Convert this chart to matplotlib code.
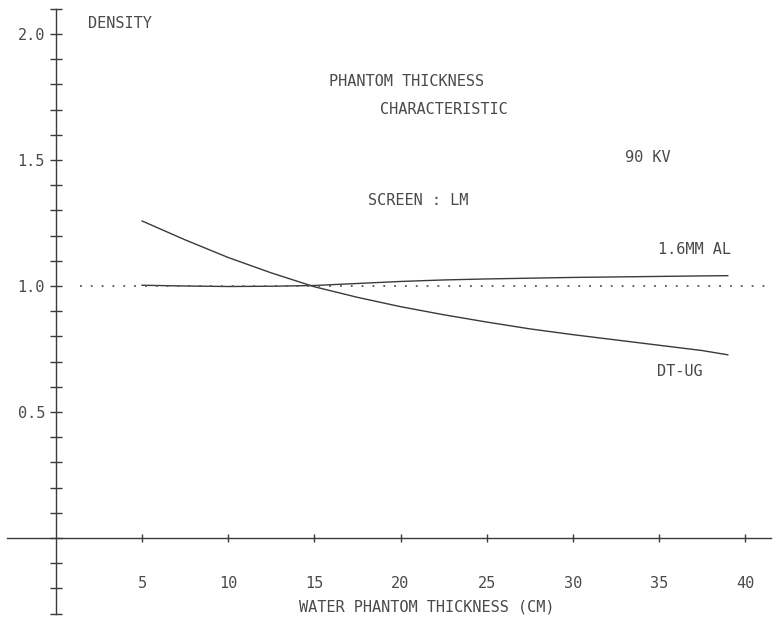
import numpy as np
import matplotlib
matplotlib.use("Agg")
import matplotlib.pyplot as plt

# phantom thickness (cm) vs film density, 90 kV, LM screen
thick = [5, 7.5, 10, 12.5, 15, 17.5, 20, 22.5, 25, 27.5, 30, 32.5, 35, 37.5, 39]
dens_dtug = [1.258, 1.183, 1.113, 1.052, 0.997, 0.955, 0.918, 0.886, 0.857,
             0.830, 0.807, 0.786, 0.765, 0.744, 0.727]
dens_al = [1.003, 1.000, 0.998, 0.999, 1.002, 1.010, 1.018, 1.024, 1.028,
           1.031, 1.034, 1.036, 1.038, 1.040, 1.041]
ref_density = 1.0

xticks = [5, 10, 15, 20, 25, 30, 35, 40]
yticks = np.round(np.arange(-0.3, 2.11, 0.1), 1)
ylabels = {0.5: "0.5", 1.0: "1.0", 1.5: "1.5", 2.0: "2.0"}

W, H = 774, 623
ink = "#3a3a3a"
font = dict(family="DejaVu Sans Mono", size=11, color="#4a4a4a")

fig = plt.figure(figsize=(W / 100, H / 100), dpi=100)
ax = fig.add_axes([0, 0, 1, 1])

# pixel mapping of the plotter frame
x0_px, x_scale = 56, 17.225
y0_px, y_scale = 538, 252
ax.set_xlim(-x0_px / x_scale, (W - x0_px) / x_scale)
ax.set_ylim((y0_px - H) / y_scale, y0_px / y_scale)

ax.plot(thick, dens_dtug, color=ink, lw=1.0)
ax.plot(thick, dens_al, color=ink, lw=1.0)
ax.hlines(ref_density, 1.4, 41.5, color="#555555", lw=1.3,
          linestyles=(0, (1, 5)))

for side in ["top", "right"]:
    ax.spines[side].set_visible(False)
ax.spines["left"].set_position(("data", 0))
ax.spines["bottom"].set_position(("data", 0))
ax.spines["left"].set_bounds(-0.3, 2.1)
ax.spines["bottom"].set_bounds(-2.85, 41.5)
for side in ["left", "bottom"]:
    ax.spines[side].set_color(ink)
    ax.spines[side].set_linewidth(1.0)

ax.set_xticks(xticks)
ax.set_xticklabels([str(v) for v in xticks], fontdict=font)
ax.set_yticks(yticks)
ax.set_yticklabels([ylabels.get(float(v), "") for v in yticks], fontdict=font)
ax.tick_params(axis="y", direction="inout", length=8, width=1.0, color=ink, pad=4)
ax.tick_params(axis="x", direction="inout", length=6, width=1.0, color=ink, pad=24)


def ftext(px, py, s, ha="left"):
    fig.text(px / W, 1 - py / H, s, ha=ha, va="center", **font)


ftext(88, 23, "DENSITY")
ftext(329, 82, "PHANTOM THICKNESS")
ftext(380, 109, "CHARACTERISTIC")
ftext(625, 158, "90 KV")
ftext(368, 200, "SCREEN : LM")
ftext(658, 250, "1.6MM AL")
ftext(657, 372, "DT-UG")
ftext(427, 607, "WATER PHANTOM THICKNESS (CM)", ha="center")

fig.savefig("out.png", dpi=100, facecolor="white")
